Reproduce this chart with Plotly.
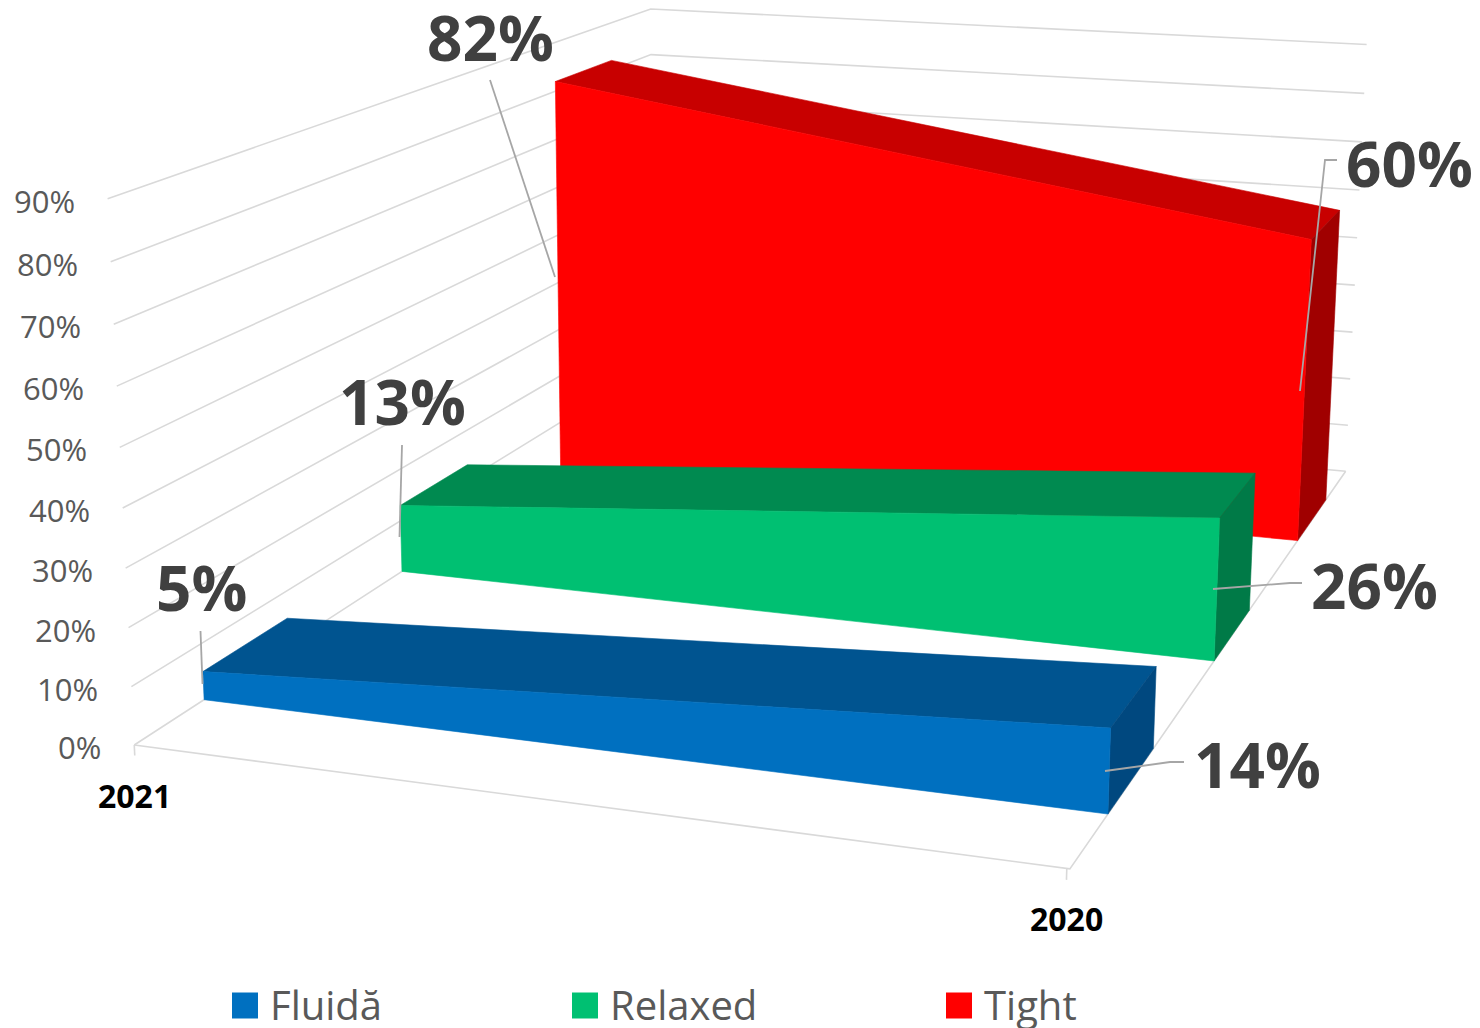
import numpy as np
import plotly.graph_objects as go

# ---- chart data -------------------------------------------------------
CATEGORIES = ["2021", "2020"]
SERIES = ["Fluidă", "Relaxed", "Tight"]
FLUIDA = [5, 14]
RELAXED = [13, 26]
TIGHT = [82, 60]
TICKS = [0, 10, 20, 30, 40, 50, 60, 70, 80, 90]
TICK_LABELS = ["0%", "10%", "20%", "30%", "40%", "50%", "60%", "70%", "80%", "90%"]

# ---- 3-D view: (category position, depth, value) -> page axes ----------
CAMERA = np.array([
    [8.3688303e+02, 7.7237814e+02, -3.4701666e-01, 1.3424591e+02],
    [4.3691868e+01, -1.7810663e+02, -6.1648306e+00, 7.4500000e+02],
    [-9.2299433e-02, 3.8795038e-01, -4.7476667e-04, 1.0000000e+00],
])
DEPTH_BANDS = [(0.1008, 0.2331), (0.4343, 0.5662), (0.7684, 0.9004)]
CATEGORY_TICK_POS = [0.0, 0.997]

FRONT = ["#0070C0", "#00C072", "#FF0000"]
TOP = ["#005490", "#008A50", "#C80000"]
SIDE = ["#00487F", "#007A47", "#A00000"]
GRID = "#D9D9D9"
LEADER = "#A6A6A6"
LABEL = "#404040"
AXIS_TEXT = "#595959"
FONT = "Open Sans"


def proj(u, v, w):
    q = CAMERA @ np.array([u, v, w, 1.0])
    return q[0] / q[2], q[1] / q[2]


def path(corners):
    xy = [proj(*c) for c in corners]
    return [p[0] for p in xy], [p[1] for p in xy]


fig = go.Figure()

# walls and floor
gx, gy = [], []
for t in TICKS:
    a, b = path([(0, 0, t), (0, 1, t), (1, 1, t)])
    gx += a + [None]
    gy += b + [None]
a, b = path([(1, 1, 0), (1, 0, 0), (0, 0, 0)])
gx += a + [None]
gy += b + [None]
for u in CATEGORY_TICK_POS:
    a, b = path([(u, 0, 0), (u, 0, -1.8)])
    gx += a + [None]
    gy += b + [None]
fig.add_trace(go.Scatter(x=gx, y=gy, mode="lines", line=dict(color=GRID, width=1.6),
                         hoverinfo="skip", name="grid"))

# slabs, back to front
VALUES = [FLUIDA, RELAXED, TIGHT]
for i in (2, 1, 0):
    a, b = VALUES[i]
    vf, vb = DEPTH_BANDS[i]
    faces = [
        ([(0, vb, a), (1, vb, b), (1, vf, b), (0, vf, a)], TOP[i]),
        ([(1, vf, 0), (1, vf, b), (1, vb, b), (1, vb, 0)], SIDE[i]),
        ([(0, vf, 0), (0, vf, a), (1, vf, b), (1, vf, 0)], FRONT[i]),
    ]
    for corners, colour in faces:
        px, py = path(corners)
        fig.add_trace(go.Scatter(x=px + px[:1], y=py + py[:1], fill="toself", fillcolor=colour,
                                 mode="lines", line=dict(color=colour, width=0.6), name=SERIES[i]))

# leader lines and value labels (label placement on the page)
LABELS = [
    ("82%", 490, 37, [(490, 80), (555, 277)]),
    ("60%", 1409, 163, [(1337, 160), (1325, 160), (1300, 391)]),
    ("13%", 402, 401, [(402, 445), (399.5, 537)]),
    ("5%", 201, 587, [(200.5, 631), (202.5, 684)]),
    ("26%", 1374, 585, [(1302, 583), (1290, 583), (1213, 589)]),
    ("14%", 1257, 764, [(1184, 762), (1170, 762), (1105, 771)]),
]
annotations = []
for text, lx, ly, leader in LABELS:
    fig.add_trace(go.Scatter(x=[p[0] for p in leader], y=[p[1] for p in leader], mode="lines",
                             line=dict(color=LEADER, width=1.8), hoverinfo="skip", name="leader " + text))
    annotations.append(dict(x=lx, y=ly, text="<b>%s</b>" % text, showarrow=False, xanchor="center", yanchor="middle",
                            font=dict(family=FONT, size=62, color=LABEL)))

# value-axis labels
for t, lab in zip(TICKS, TICK_LABELS):
    x0, y0 = proj(0, 0, t)
    annotations.append(dict(x=x0 - 31, y=y0 + 2, text=lab, showarrow=False, xanchor="right", yanchor="middle",
                            font=dict(family=FONT, size=31, color=AXIS_TEXT)))

# category labels
for u, cat in zip(CATEGORY_TICK_POS, CATEGORIES):
    x0, y0 = proj(u, 0, 0)
    annotations.append(dict(x=x0, y=y0 + 50, text="<b>%s</b>" % cat, showarrow=False, xanchor="center",
                            yanchor="middle", font=dict(family=FONT, size=32, color="#000000")))

# legend
LEGEND_SWATCH_X = [245, 585, 959]
LEGEND_TEXT_X = [268, 608, 982]
for name, colour, sx, tx in zip(SERIES, FRONT, LEGEND_SWATCH_X, LEGEND_TEXT_X):
    fig.add_trace(go.Scatter(x=[sx], y=[1005.5], mode="markers", name=name,
                             marker=dict(symbol="square", size=26, color=colour, line=dict(width=0))))
    annotations.append(dict(x=tx, y=1004, text=name, showarrow=False, xanchor="left", yanchor="middle",
                            font=dict(family=FONT, size=40, color=AXIS_TEXT)))

fig.update_layout(
    width=1480, height=1028, margin=dict(l=0, r=0, t=0, b=0), showlegend=False,
    plot_bgcolor="white", paper_bgcolor="white", annotations=annotations,
    xaxis=dict(range=[0, 1480], visible=False, fixedrange=True),
    yaxis=dict(range=[1028, 0], visible=False, fixedrange=True),
)
fig.write_html("out.html", config={"displayModeBar": False},
               post_script="document.body.style.margin='0';document.body.style.overflow='hidden';")
